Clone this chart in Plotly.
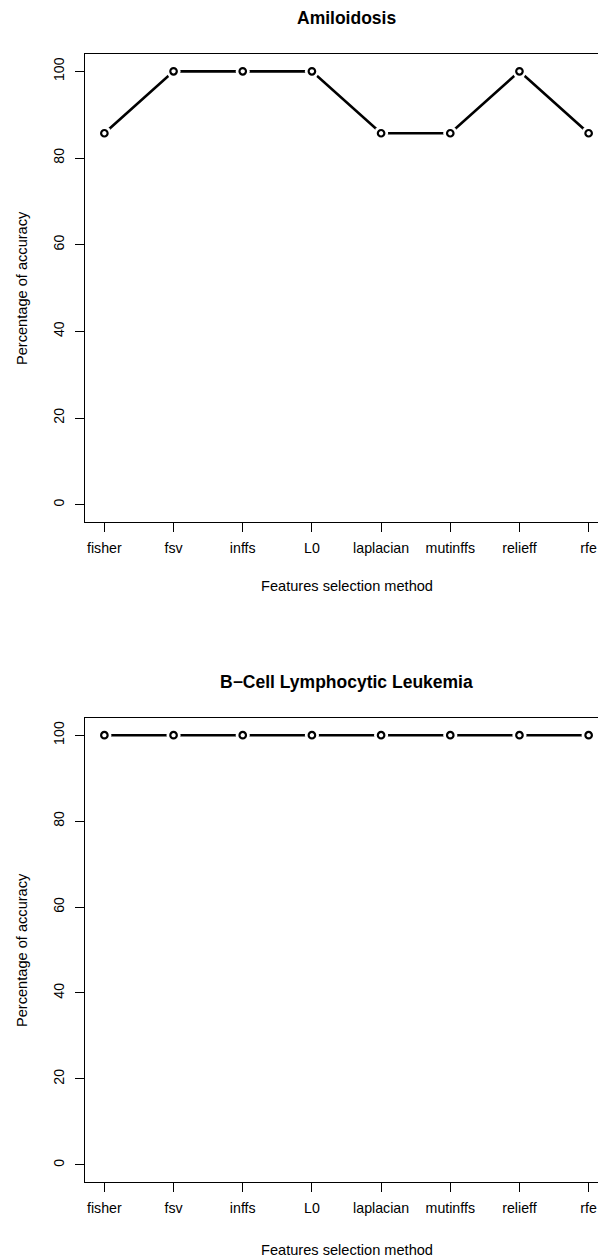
import plotly.graph_objects as go

methods = ["fisher", "fsv", "inffs", "L0", "laplacian", "mutinffs", "relieff", "rfe"]
amiloidosis = [85.71, 100, 100, 100, 85.71, 85.71, 100, 85.71]
leukemia = [100, 100, 100, 100, 100, 100, 100, 100]
titles = ["Amiloidosis", "B\u2212Cell Lymphocytic Leukemia"]
yticks = [0, 20, 40, 60, 80, 100]
series = [amiloidosis, leukemia]

# the original R figure is wider than the 598px window; its right edge is cut off
W, H = 608, 1260
FONT = "Liberation Sans, Arial, Helvetica, sans-serif"
TICK_SIZE = 14.2
LAB_SIZE = 14.6
TITLE_SIZE = 17.5

boxes = [(54, 522), (718, 1182)]
left_px = 85

fig = go.Figure()
layout = dict(
    width=W, height=H, margin=dict(l=0, r=0, t=0, b=0),
    paper_bgcolor="white", plot_bgcolor="white", showlegend=False,
    font=dict(family=FONT, size=12, color="black"),
    annotations=[], hovermode=False,
)

for i, (vals, ttl) in enumerate(zip(series, titles)):
    xa = "x" if i == 0 else "x2"
    ya = "y" if i == 0 else "y2"
    fig.add_trace(go.Scatter(x=methods, y=vals, mode="lines", xaxis=xa, yaxis=ya,
                             line=dict(color="black", width=2.6), hoverinfo="skip"))
    fig.add_trace(go.Scatter(x=methods, y=vals, mode="markers", xaxis=xa, yaxis=ya,
                             marker=dict(size=14, color="white", line=dict(width=0)),
                             hoverinfo="skip"))
    fig.add_trace(go.Scatter(x=methods, y=vals, mode="markers", xaxis=xa, yaxis=ya,
                             marker=dict(size=6.5, color="white", symbol="circle",
                                         line=dict(color="black", width=2.2))))
    top, bot = boxes[i]
    dom = [1 - bot / H, 1 - top / H]
    key = "" if i == 0 else "2"
    layout["xaxis" + key] = dict(
        domain=[left_px / W, 1], type="category", categoryorder="array",
        categoryarray=methods, range=[-0.28, 7.28],
        showline=True, linecolor="black", linewidth=1, mirror=True,
        ticks="outside", ticklen=9, tickwidth=1, tickcolor="black",
        showgrid=False, zeroline=False, anchor=ya,
        tickfont=dict(family=FONT, size=TICK_SIZE, color="black"),
        ticklabelstandoff=4,
    )
    layout["yaxis" + key] = dict(
        domain=dom, range=[-4, 104], tickvals=yticks,
        ticktext=[str(t) for t in yticks],
        showline=True, linecolor="black", linewidth=1, mirror=True,
        ticks="outside", ticklen=9, tickwidth=1, tickcolor="black",
        showgrid=False, zeroline=False, anchor=xa, tickangle=-90,
        tickfont=dict(family=FONT, size=TICK_SIZE, color="black"),
        ticklabelstandoff=5,
    )
    off = 0 if i == 0 else 664
    cx = (left_px + W) / 2 / W
    layout["annotations"] += [
        dict(text="<b>" + ttl + "</b>", x=cx, y=1 - (18 + off) / H,
             xref="paper", yref="paper", showarrow=False,
             font=dict(family=FONT, size=TITLE_SIZE, color="black"),
             xanchor="center", yanchor="middle"),
        dict(text="Features selection method", x=cx, y=1 - (586 + off) / H,
             xref="paper", yref="paper", showarrow=False,
             font=dict(family=FONT, size=LAB_SIZE, color="black"),
             xanchor="center", yanchor="middle"),
        dict(text="Percentage of accuracy", x=22 / W, y=1 - ((top + bot) / 2) / H,
             xref="paper", yref="paper", showarrow=False, textangle=-90,
             font=dict(family=FONT, size=LAB_SIZE, color="black"),
             xanchor="center", yanchor="middle"),
    ]

fig.update_layout(**layout)
fig.write_html("out.html",
               config={"displayModeBar": False, "staticPlot": True},
               post_script="document.body.style.margin='0';document.body.style.overflow='hidden';")
